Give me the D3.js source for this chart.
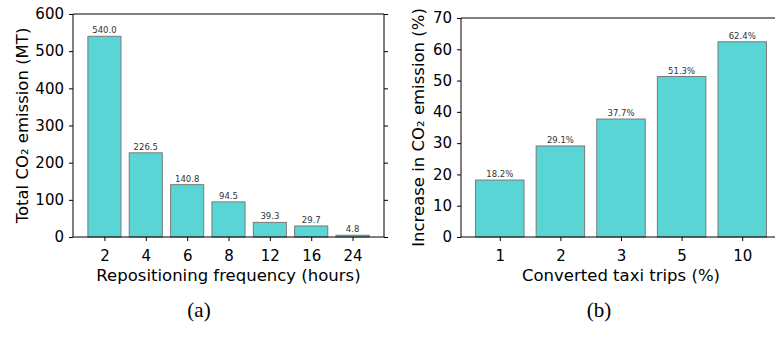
<!DOCTYPE html>
<html>
<head>
<meta charset="utf-8">
<script src="https://cdn.jsdelivr.net/npm/d3@7"></script>
<style>
  body { margin: 0; background: #fff; }
  svg { display: block; }
</style>
</head>
<body>
<script>
// Panel (a): repositioning frequency vs. total emission
const freqLabels = ['2', '4', '6', '8', '12', '16', '24']
const freqValues = [540.0, 226.5, 140.8, 94.5, 39.3, 29.7, 4.8]
const freqTicks = [0, 100, 200, 300, 400, 500, 600]

// Panel (b): converted taxi trips vs. increase in emission
const tripLabels = ['1', '2', '3', '5', '10']
const tripValues = [18.2, 29.1, 37.7, 51.3, 62.4]
const tripTicks = [0, 10, 20, 30, 40, 50, 60, 70]

const W = 775, H = 337
const svg = d3.select('body').append('svg').attr('width', W).attr('height', H)

const FONT = 'DejaVu Sans, sans-serif'
const BAR = '#5ad5d5'
const EDGE = '#7a7a7a'

function panel(o) {
  const x = d3.scaleLinear().domain(o.xDomain).range([o.left, o.right])
  const y = d3.scaleLinear().domain([0, o.yMax]).range([o.bottom, o.top])
  const g = svg.append('g')

  // bars
  g.selectAll('rect.bar').data(o.values).join('rect')
    .attr('class', 'bar')
    .attr('x', (d, i) => x(i - 0.4))
    .attr('width', (d, i) => x(i + 0.4) - x(i - 0.4))
    .attr('y', d => y(d))
    .attr('height', d => y(0) - y(d))
    .attr('fill', BAR)
    .attr('stroke', EDGE).attr('stroke-width', 1)

  // value labels
  g.selectAll('text.val').data(o.values).join('text')
    .attr('class', 'val')
    .attr('x', (d, i) => x(i))
    .attr('y', d => y(d) - 3)
    .attr('text-anchor', 'middle')
    .style('font-family', FONT).style('font-size', '8.5px').style('fill', '#333')
    .text(o.fmt)

  // spines
  const sp = g.append('g').attr('stroke', '#000').attr('stroke-width', 1).attr('fill', 'none')
  sp.append('line').attr('x1', o.left).attr('x2', o.left).attr('y1', o.top).attr('y2', o.bottom)
  sp.append('line').attr('x1', o.left).attr('x2', o.right).attr('y1', o.bottom).attr('y2', o.bottom)
  sp.append('line').attr('x1', o.left).attr('x2', o.right).attr('y1', o.top).attr('y2', o.top)
  sp.append('line').attr('x1', o.right).attr('x2', o.right).attr('y1', o.top).attr('y2', o.bottom)

  // y axis left
  const ya = g.append('g').attr('transform', `translate(${o.left},0)`)
    .call(d3.axisLeft(y).tickValues(o.yTicks).tickSize(4).tickPadding(5).tickFormat(d3.format('d')))
  ya.select('.domain').remove()
  ya.selectAll('text').style('font-family', FONT).style('font-size', '15px').style('fill', '#000')

  // y axis right (ticks only)
  const yr = g.append('g').attr('transform', `translate(${o.right},0)`)
    .call(d3.axisRight(y).tickValues(o.yTicks).tickSize(4).tickFormat(''))
  yr.select('.domain').remove()

  // x axis
  const xa = g.append('g').attr('transform', `translate(0,${o.bottom})`)
    .call(d3.axisBottom(x).tickValues(d3.range(o.labels.length)).tickSize(4).tickPadding(9)
      .tickFormat(i => o.labels[i]))
  xa.select('.domain').remove()
  xa.selectAll('text').style('font-family', FONT).style('font-size', '15px').style('fill', '#000')

  // axis titles
  g.append('text')
    .attr('x', (o.left + o.right) / 2).attr('y', o.bottom + 44)
    .attr('text-anchor', 'middle')
    .style('font-family', FONT).style('font-size', '16.5px')
    .text(o.xTitle)
  g.append('text')
    .attr('transform', `translate(${o.yTitleX},${(o.top + o.bottom) / 2}) rotate(-90)`)
    .attr('text-anchor', 'middle')
    .style('font-family', FONT).style('font-size', '16.5px')
    .text(o.yTitle)

  // caption
  svg.append('text')
    .attr('x', o.capX).attr('y', 317)
    .attr('text-anchor', 'middle')
    .style('font-family', 'Liberation Serif, serif').style('font-size', '21px')
    .text(o.caption)
}

panel({
  labels: freqLabels, values: freqValues, yTicks: freqTicks, yMax: 600,
  xDomain: [-0.76, 6.76], left: 73, right: 384, top: 14, bottom: 237,
  fmt: d => d.toFixed(1),
  xTitle: 'Repositioning frequency (hours)',
  yTitle: 'Total CO₂ emission (MT)', yTitleX: 28,
  caption: '(a)', capX: 199
})

panel({
  labels: tripLabels, values: tripValues, yTicks: tripTicks, yMax: 70,
  xDomain: [-0.64, 4.64], left: 461, right: 781, top: 18, bottom: 237,
  fmt: d => d.toFixed(1) + '%',
  xTitle: 'Converted taxi trips (%)',
  yTitle: 'Increase in CO₂ emission (%)', yTitleX: 424,
  caption: '(b)', capX: 599
})
</script>
</body>
</html>
